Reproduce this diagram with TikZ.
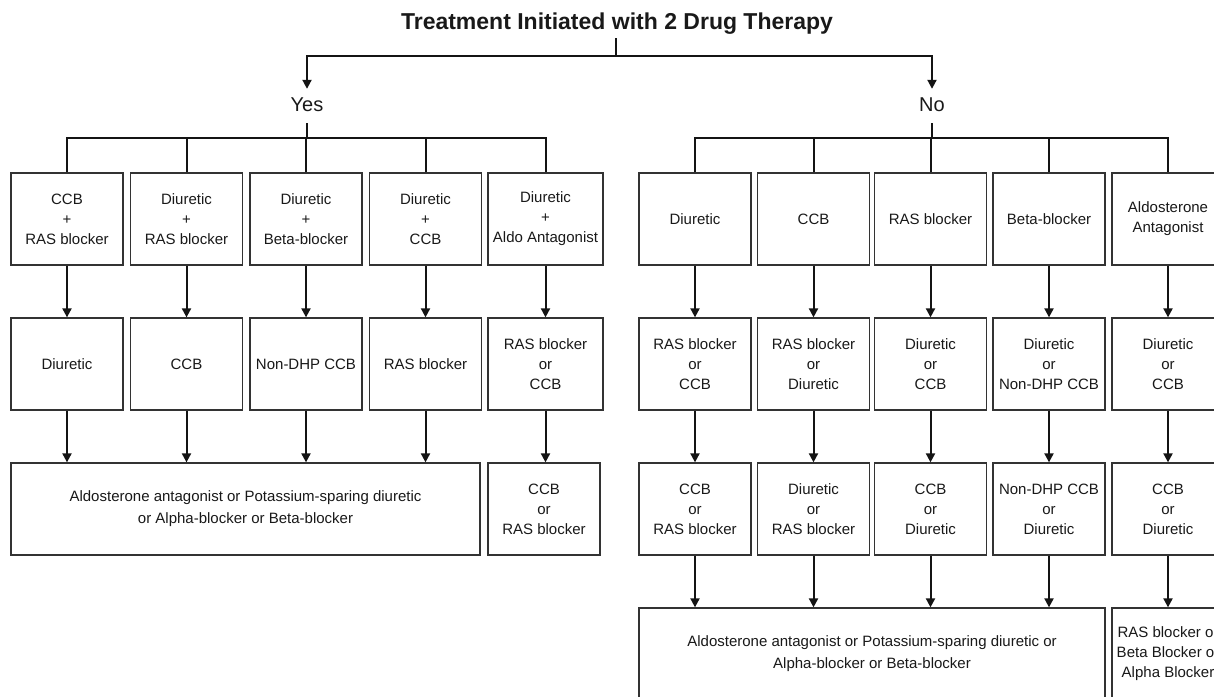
\documentclass[tikz,border=0pt]{standalone}
\usepackage{fontspec}
\setmainfont{Liberation Sans}
\usetikzlibrary{arrows.meta}
\newcommand{\boxfont}{\fontsize{15}{20}\selectfont}
\newcommand{\bigboxfont}{\fontsize{15}{22}\selectfont}
\newcommand{\yesnofont}{\fontsize{20}{24}\selectfont}
\newcommand{\titlefont}{\fontsize{23}{26}\selectfont\bfseries}
\tikzset{
  bx/.style={draw=black!80, line width=1.3pt, minimum height=92pt, inner sep=0pt,
             align=center, font=\boxfont, text=black!90},
  bigbx/.style={bx, font=\bigboxfont},
  conn/.style={line width=2pt, draw=black!92},
  arr/.style={conn, -{Triangle[width=9pt,length=9pt]}},
  yn/.style={font=\yesnofont, text=black!90, text height=15pt, text depth=4pt, inner xsep=2pt, inner ysep=7.5pt},
}
\begin{document}
\begin{tikzpicture}[x=1pt,y=-1pt]
\useasboundingbox (0,0) rectangle (1214,696);
\fill[white] (0,0) rectangle (1214,696);
\clip (0,0) rectangle (1214,696);

% title and first split
\node[font=\titlefont, text=black!90, anchor=base, inner sep=4pt] (title) at (617,29.3) {Treatment Initiated with 2 Drug Therapy};
\coordinate (tj) at (616,56);
\node[yn] (yes) at (307,106) {Yes};
\node[yn] (no) at (932,106) {No};
\draw[conn] (title.south -| tj) -- (tj);
\draw[arr] (tj) -| (yes.north);
\draw[arr] (tj) -| (no.north);

% left branch (Yes)
\node[bx, minimum width=112pt] (t1) at (67,219) {CCB\\+\\RAS blocker};
\node[bx, minimum width=112pt] (t2) at (186.5,219) {Diuretic\\+\\RAS blocker};
\node[bx, minimum width=112pt] (t3) at (306,219) {Diuretic\\+\\Beta-blocker};
\node[bx, minimum width=112pt] (t4) at (425.5,219) {Diuretic\\+\\CCB};
\node[bx, minimum width=115pt] (t5) at (545.5,219) {Diuretic\\+\\Aldo Antagonist};

\node[bx, minimum width=112pt] (m1) at (67,364) {Diuretic};
\node[bx, minimum width=112pt] (m2) at (186.5,364) {CCB};
\node[bx, minimum width=112pt] (m3) at (306,364) {Non-DHP CCB};
\node[bx, minimum width=112pt] (m4) at (425.5,364) {RAS blocker};
\node[bx, minimum width=115pt] (m5) at (545.5,364) {RAS blocker\\or\\CCB};

\node[bigbx, minimum width=469pt] (lb) at (245.5,509) {Aldosterone antagonist or Potassium-sparing diuretic\\or Alpha-blocker or Beta-blocker};
\node[bx, minimum width=112pt] (ls) at (544,509) {CCB\\or\\RAS blocker};

\coordinate (ly) at (307,138);
\draw[conn] (yes.south) -- (ly);
\draw[conn] (t1.north) -- (t1.north |- ly) -- (t5.north |- ly) -- (t5.north);
\foreach \i in {2,3,4} {\draw[conn] (t\i.north) -- (t\i.north |- ly);}
\foreach \i in {1,...,5} {\draw[arr] (t\i.south) -- (m\i.north);}
\foreach \i in {1,...,4} {\draw[arr] (m\i.south) -- (m\i.south |- lb.north);}
\draw[arr] (m5.south) -- (m5.south |- ls.north);

% right branch (No)
\node[bx, minimum width=112pt] (n1) at (695,219) {Diuretic};
\node[bx, minimum width=112pt] (n2) at (813.5,219) {CCB};
\node[bx, minimum width=112pt] (n3) at (930.5,219) {RAS blocker};
\node[bx, minimum width=112pt] (n4) at (1049,219) {Beta-blocker};
\node[bx, minimum width=112pt] (n5) at (1168,219) {Aldosterone\\Antagonist};

\node[bx, minimum width=112pt] (p1) at (695,364) {RAS blocker\\or\\CCB};
\node[bx, minimum width=112pt] (p2) at (813.5,364) {RAS blocker\\or\\Diuretic};
\node[bx, minimum width=112pt] (p3) at (930.5,364) {Diuretic\\or\\CCB};
\node[bx, minimum width=112pt] (p4) at (1049,364) {Diuretic\\or\\Non-DHP CCB};
\node[bx, minimum width=112pt] (p5) at (1168,364) {Diuretic\\or\\CCB};

\node[bx, minimum width=112pt] (q1) at (695,509) {CCB\\or\\RAS blocker};
\node[bx, minimum width=112pt] (q2) at (813.5,509) {Diuretic\\or\\RAS blocker};
\node[bx, minimum width=112pt] (q3) at (930.5,509) {CCB\\or\\Diuretic};
\node[bx, minimum width=112pt] (q4) at (1049,509) {Non-DHP CCB\\or\\Diuretic};
\node[bx, minimum width=112pt] (q5) at (1168,509) {CCB\\or\\Diuretic};

\node[bigbx, minimum width=466pt] (rb) at (872,654) {Aldosterone antagonist or Potassium-sparing diuretic or\\Alpha-blocker or Beta-blocker};
\node[bx, minimum width=112pt] (rs) at (1168,654) {RAS blocker or\\Beta Blocker or\\Alpha Blocker};

\coordinate (ry) at (932,138);
\draw[conn] (no.south) -- (ry);
\draw[conn] (n1.north) -- (n1.north |- ry) -- (n5.north |- ry) -- (n5.north);
\foreach \i in {2,3,4} {\draw[conn] (n\i.north) -- (n\i.north |- ry);}
\foreach \i in {1,...,5} {\draw[arr] (n\i.south) -- (p\i.north);}
\foreach \i in {1,...,5} {\draw[arr] (p\i.south) -- (q\i.north);}
\foreach \i in {1,...,4} {\draw[arr] (q\i.south) -- (q\i.south |- rb.north);}
\draw[arr] (q5.south) -- (rs.north);
\end{tikzpicture}
\end{document}
